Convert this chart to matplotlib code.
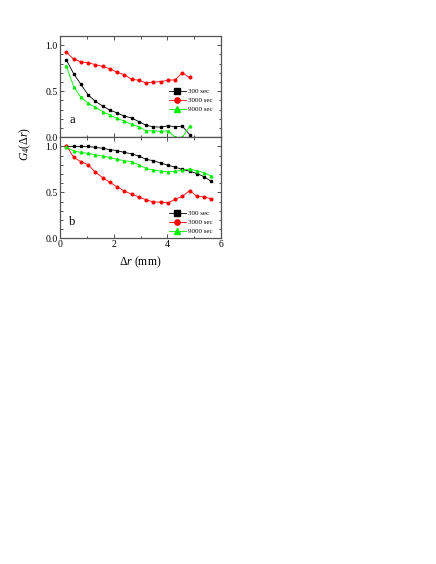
import numpy as np
import matplotlib
matplotlib.use('Agg')
import matplotlib.pyplot as plt
from matplotlib.ticker import MultipleLocator, FormatStrFormatter

plt.rcParams['font.family'] = ['Liberation Serif', 'DejaVu Serif']
plt.rcParams['mathtext.fontset'] = 'custom'
plt.rcParams['mathtext.rm'] = 'Liberation Serif'
plt.rcParams['mathtext.it'] = 'Liberation Serif:italic'

# x positions (mm): first bin and step
dr_a = [0.24 + 0.27 * k for k in range(18)]
dr_b = [0.24 + 0.27 * k for k in range(21)]

labels = ['300 sec', '3000 sec', '9000 sec']

# panel a
g4_a_300 = [0.84, 0.69, 0.575, 0.46, 0.39, 0.34, 0.295, 0.265, 0.23, 0.21,
            0.17, 0.13, 0.115, 0.11, 0.125, 0.115, 0.12, 0.03]
g4_a_3000 = [0.925, 0.85, 0.82, 0.81, 0.79, 0.77, 0.745, 0.705, 0.68, 0.63,
             0.62, 0.59, 0.60, 0.605, 0.62, 0.625, 0.70, 0.65]
g4_a_9000 = [0.77, 0.55, 0.435, 0.37, 0.325, 0.28, 0.24, 0.205, 0.175, 0.14,
             0.115, 0.07, 0.07, 0.065, 0.07, 0.0, 0.0, 0.12]

# panel b
g4_b_300 = [1.0, 1.0, 1.0, 1.0, 0.99, 0.98, 0.965, 0.955, 0.935, 0.92,
            0.895, 0.86, 0.845, 0.82, 0.795, 0.775, 0.75, 0.73, 0.705, 0.67, 0.62]
g4_b_3000 = [1.01, 0.88, 0.835, 0.80, 0.72, 0.66, 0.61, 0.56, 0.515, 0.48,
             0.45, 0.42, 0.395, 0.395, 0.385, 0.425, 0.457, 0.52, 0.457, 0.45, 0.43]
g4_b_9000 = [0.995, 0.95, 0.935, 0.925, 0.91, 0.895, 0.88, 0.86, 0.845, 0.835,
             0.80, 0.76, 0.745, 0.73, 0.725, 0.73, 0.74, 0.755, 0.735, 0.715, 0.675]

colors = ['black', '#ff0000', '#00ee00']
markers = ['s', 'o', '^']

fig = plt.figure(figsize=(4.36, 5.64), dpi=100)
ax_a = fig.add_axes([0.1376, 0.7566, 0.3693, 0.1794])
ax_b = fig.add_axes([0.1376, 0.5775, 0.3693, 0.1791])

leg_kw = dict(frameon=False, fontsize=5, markerscale=2.0, handlelength=2.4,
              handletextpad=0.4, labelspacing=0.45, borderpad=0.2)


def draw_panel(ax, x, series, tag, leg_y):
    for y, c, m, lab in zip(series, colors, markers, labels):
        ax.plot(x, y, color=c, marker=m, ms=1.9, lw=0.6, label=lab)
    ax.set_xlim(0, 6)
    ax.set_ylim(0, 1.1)
    ax.xaxis.set_major_locator(MultipleLocator(2))
    ax.xaxis.set_minor_locator(MultipleLocator(1))
    ax.yaxis.set_major_locator(MultipleLocator(0.5))
    ax.yaxis.set_minor_locator(MultipleLocator(0.1))
    ax.yaxis.set_major_formatter(FormatStrFormatter('%.1f'))
    ax.tick_params(which='both', direction='in', top=True, right=True,
                   labelsize=7, width=0.6, colors='#333333', labelcolor='black', pad=1.5)
    ax.tick_params(which='major', length=3)
    ax.tick_params(which='minor', length=1.8)
    for s in ax.spines.values():
        s.set_linewidth(0.9)
        s.set_color('#555555')
    ax.text(0.35, 0.15, tag, fontsize=9)
    ax.legend(loc='lower right', bbox_to_anchor=(0.98, leg_y), **leg_kw)


draw_panel(ax_a, dr_a, [g4_a_300, g4_a_3000, g4_a_9000], 'a', 0.2)
draw_panel(ax_b, dr_b, [g4_b_300, g4_b_3000, g4_b_9000], 'b', -0.01)
ax_a.tick_params(labelbottom=False)

ax_b.set_xlabel(r'$\mathit{Δr}$ (mm)', fontsize=8.5, labelpad=4)
fig.text(0.058, 0.745, r'$G_4(\mathit{Δr})$', rotation=90, fontsize=8.5,
         ha='center', va='center')

fig.savefig('out.png', dpi=100)
